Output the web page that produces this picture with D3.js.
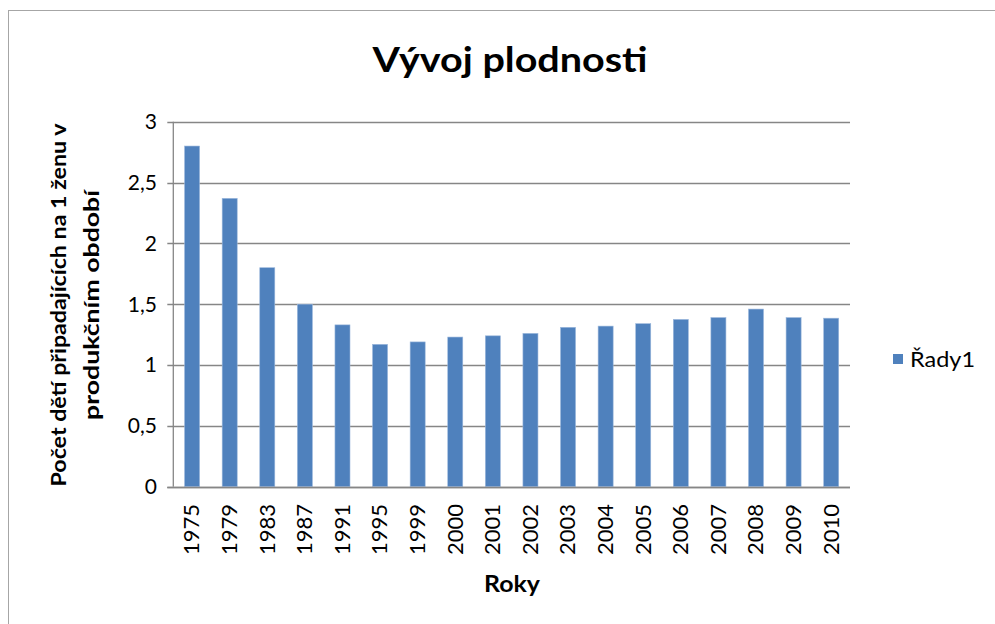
<!DOCTYPE html>
<html><head><meta charset="utf-8">
<script src="https://cdn.jsdelivr.net/npm/d3@7"></script>
<style>body{margin:0;background:#fff;} svg{display:block;}</style>
</head><body>
<svg id="c" width="995" height="624"></svg>
<script>
const categories = ["1975","1979","1983","1987","1991","1995","1999","2000","2001","2002","2003","2004","2005","2006","2007","2008","2009","2010"];
const values = [2.80,2.37,1.80,1.50,1.33,1.17,1.19,1.23,1.24,1.26,1.31,1.32,1.34,1.375,1.39,1.46,1.39,1.385];
const yTicks = [0,0.5,1,1.5,2,2.5,3];
const title = "Vývoj plodnosti";
const yTitle = ["Počet dětí připadajících na 1 ženu v","produkčním období"];
const xTitle = "Roky";
const seriesName = "Řady1";

(function(){
const font = "Lato, 'Open Sans', sans-serif";
const svg = d3.select("#c");
const W = 995, H = 624;
svg.append("rect").attr("x",8.5).attr("y",10.5).attr("width",W).attr("height",H).attr("fill","#fff").attr("stroke","#a6a6a6");

const pL = 173.3, pR = 850, pT = 121.7, pB = 486.7;
const x = d3.scaleBand().domain(categories).range([pL,pR]).paddingInner(0.6).paddingOuter(0.3);
const y = d3.scaleLinear().domain([0,3]).range([pB,pT]);

svg.append("g").selectAll("line").data(yTicks).join("line")
  .attr("x1",pL-6).attr("x2",pR).attr("y1",d=>Math.round(y(d))+0.5).attr("y2",d=>Math.round(y(d))+0.5)
  .attr("stroke","#868686").attr("stroke-width",1.3);

svg.append("g").selectAll("rect").data(values).join("rect")
  .attr("x",(d,i)=>x(categories[i])).attr("width",x.bandwidth())
  .attr("y",d=>y(d)).attr("height",d=>y(0)-y(d))
  .attr("fill","#4f81bd").attr("stroke","#9cb8dc").attr("stroke-width",0.6);

svg.append("line").attr("x1",pL).attr("x2",pL).attr("y1",pT).attr("y2",pB).attr("stroke","#868686").attr("stroke-width",1.3);
svg.append("line").attr("x1",pL-6).attr("x2",pR).attr("y1",Math.round(pB)+0.5).attr("y2",Math.round(pB)+0.5).attr("stroke","#868686").attr("stroke-width",1.5);

const fmt = d => String(d).replace(".",",");
svg.append("g").selectAll("text").data(yTicks).join("text")
  .attr("x",157).attr("y",d=>y(d)).attr("dy","0.35em").attr("text-anchor","end")
  .attr("font-family",font).attr("font-size",21).attr("fill","#000").text(fmt);

svg.append("g").selectAll("text").data(categories).join("text")
  .attr("transform",d=>`translate(${x(d)+x.bandwidth()/2},504) rotate(-90)`)
  .attr("text-anchor","end").attr("dy","0.35em")
  .attr("font-family",font).attr("font-size",21).attr("fill","#000")
  .attr("textLength",51).attr("lengthAdjust","spacingAndGlyphs").text(d=>d);

svg.append("text").attr("x",510).attr("y",72).attr("text-anchor","middle")
  .attr("font-family",font).attr("font-weight","bold").attr("font-size",35)
  .attr("textLength",275).attr("lengthAdjust","spacingAndGlyphs").text(title);

svg.append("text").attr("x",512).attr("y",592).attr("text-anchor","middle")
  .attr("font-family",font).attr("font-weight","bold").attr("font-size",22)
  .attr("textLength",56).attr("lengthAdjust","spacingAndGlyphs").text(xTitle);

yTitle.forEach((t,i)=>{
  svg.append("text").attr("transform",`translate(${66+i*33},305) rotate(-90)`)
    .attr("text-anchor","middle").attr("font-family",font).attr("font-weight","bold").attr("font-size",20)
    .attr("textLength", i===0?363:230).attr("lengthAdjust","spacingAndGlyphs").text(t);
});

svg.append("rect").attr("x",893).attr("y",354).attr("width",10).attr("height",10).attr("fill","#4f81bd");
svg.append("text").attr("x",910).attr("y",359).attr("dy","0.35em").attr("font-family",font).attr("font-size",22)
  .attr("textLength",65).attr("lengthAdjust","spacingAndGlyphs").text(seriesName);
})();
</script>
</body></html>
